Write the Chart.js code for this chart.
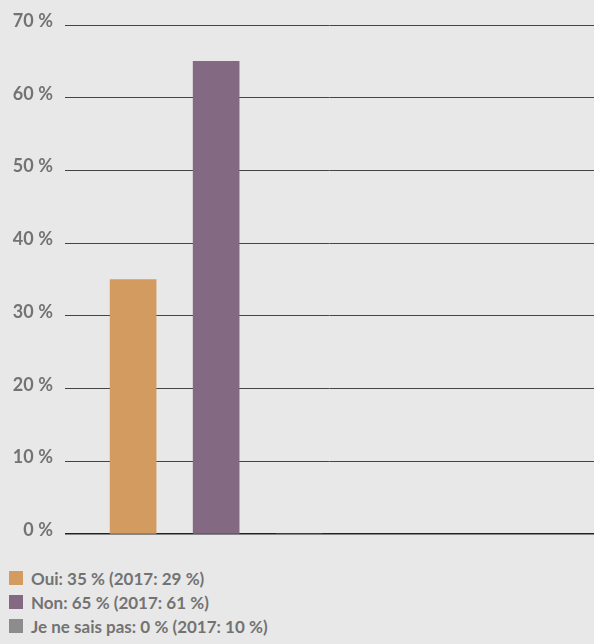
<!DOCTYPE html>
<html>
<head>
<meta charset="utf-8">
<script src="https://cdn.jsdelivr.net/npm/chart.js@4/dist/chart.umd.min.js"></script>
<style>
  html, body { margin: 0; padding: 0; background: #e8e8e8; }
  body { width: 594px; height: 644px; position: relative; overflow: hidden; font-family: Lato, "Open Sans", sans-serif; }
  #wrap { position: absolute; left: 0; top: 0; width: 594px; height: 557px; }
  #legend { position: absolute; left: 9px; top: 566px; }
  .item { display: flex; align-items: center; height: 24px; color: #737373; font-weight: bold; font-size: 17px; }
  .sw { width: 14px; height: 14px; margin-right: 8px; }
</style>
</head>
<body>
<div id="wrap"><canvas id="chart"></canvas></div>
<div id="legend"></div>
<script>
const categories = ["Oui", "Non", "Je ne sais pas"];
const values = [35, 65, 0];
const values2017 = [29, 61, 10];
const colors = ["#d39b60", "#836982", "#8c8c8c"];
const yTicks = [0, 10, 20, 30, 40, 50, 60, 70];

const legend = document.getElementById("legend");
categories.forEach((c, i) => {
    const row = document.createElement("div");
    row.className = "item";
    row.innerHTML = `<span class="sw" style="background:${colors[i]}"></span>${c}: ${values[i]}\u202f% (2017: ${values2017[i]}\u202f%)`;
    legend.appendChild(row);
});

new Chart(document.getElementById("chart"), {
    type: "bar",
    data: {
        datasets: [{
            data: values.map((v, i) => ({ x: i, y: v })),
            backgroundColor: colors,
            barThickness: 46
        }]
    },
    options: {
        responsive: true,
        maintainAspectRatio: false,
        animation: false,
        layout: { padding: { top: 25, right: 0, bottom: 15, left: 0 } },
        plugins: { legend: { display: false }, tooltip: { enabled: false } },
        scales: {
            x: {
                type: "linear",
                min: -0.82,
                max: 5.55,
                offset: false,
                display: false
            },
            y: {
                min: 0,
                max: 70,
                afterFit: s => { s.width = 65; },
                afterBuildTicks: s => { s.ticks = yTicks.map(v => ({ value: v })); },
                border: { display: false },
                grid: {
                    drawTicks: false,
                    color: ctx => ctx.tick && ctx.tick.value === 0 ? "#222" : "#444",
                    lineWidth: ctx => ctx.tick && ctx.tick.value === 0 ? 1.6 : 1
                },
                ticks: {
                    padding: 12,
                    labelOffset: -4,
                    color: "#737373",
                    font: { family: "Lato", weight: "bold", size: 18 },
                    callback: v => v + "\u202f%"
                }
            }
        }
    }
});
</script>
</body>
</html>
